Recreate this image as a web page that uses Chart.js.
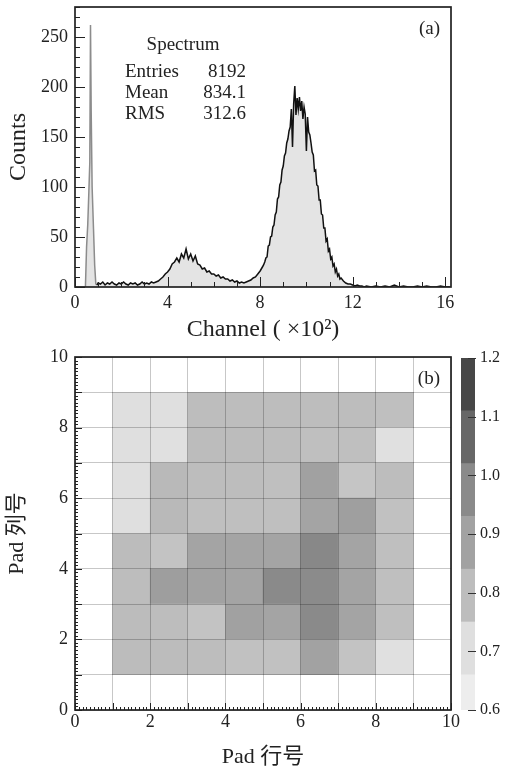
<!DOCTYPE html>
<html>
<head>
<meta charset="utf-8">
<script src="https://cdn.jsdelivr.net/npm/chart.js@4.4.0/dist/chart.umd.min.js"></script>
<style>
  body { margin: 0; background: #fff; width: 505px; height: 771px; overflow: hidden; position: relative; }
  canvas { position: absolute; left: 0; }
  #spec { top: 0; }
  #pads { top: 340px; }
  #scale { left: 440px; top: 340px; }
</style>
</head>
<body>
<canvas id="spec" width="505" height="344"></canvas>
<canvas id="pads" width="505" height="431"></canvas>
<canvas id="scale" width="65" height="431"></canvas>
<script>
// (a) spectrum, channel in units of 100
const channel = [
  0, 0.2, 0.4, 0.45, 0.5, 0.55, 0.6, 0.64, 0.67, 0.7, 0.74, 0.8, 0.85, 0.9, 0.95,
  1.0, 1.1, 1.2, 1.3, 1.4, 1.5, 1.6, 1.7, 1.8, 1.9, 2.0, 2.1, 2.2, 2.3, 2.4, 2.5, 2.6, 2.7, 2.8, 2.9, 3.0, 3.1, 3.2, 3.3, 3.4, 3.5,
  3.6, 3.7, 3.8, 3.9, 4.0, 4.1, 4.2, 4.3, 4.4, 4.5, 4.6, 4.7, 4.8, 4.9, 5.0, 5.1, 5.2, 5.3, 5.4, 5.5, 5.6, 5.7, 5.8, 5.9,
  6.0, 6.1, 6.2, 6.3, 6.4, 6.5, 6.6, 6.7, 6.8, 6.9, 7.0, 7.1, 7.2, 7.3, 7.4, 7.5, 7.6,
  7.7, 7.8, 7.9, 8.0, 8.05, 8.1, 8.15, 8.2, 8.25, 8.3, 8.35, 8.4, 8.45, 8.5, 8.55, 8.6, 8.65, 8.7, 8.75, 8.8, 8.85, 8.9, 8.95,
  9.0, 9.05, 9.1, 9.15, 9.2, 9.25, 9.3, 9.35, 9.4, 9.45, 9.5, 9.55, 9.6, 9.65, 9.7, 9.75, 9.8, 9.85, 9.9, 9.95,
  10.0, 10.05, 10.1, 10.15, 10.2, 10.25, 10.3, 10.35, 10.4, 10.45, 10.5, 10.55, 10.6, 10.65, 10.7, 10.75, 10.8, 10.85, 10.9, 10.95,
  11.0, 11.05, 11.1, 11.15, 11.2, 11.25, 11.3, 11.35, 11.4, 11.45, 11.5, 11.6, 11.7, 11.8, 11.9, 12.0, 12.1, 12.2, 12.3, 12.4, 12.5,
  12.6, 12.8, 13.0, 13.2, 13.4, 13.6, 13.8, 14.0, 14.2, 14.4, 14.6, 14.8, 15.0, 15.2, 15.4, 15.6, 15.8, 16.0, 16.2
];
const counts = [
  0, 0, 0, 0, 40, 62, 96, 125, 262, 175, 100, 58, 22, 3, 2,
  4, 3, 5, 2, 4, 3, 5, 3, 2, 4, 3, 5, 3, 2, 4, 3, 4, 2, 3, 5, 3, 4, 3, 5, 4, 5,
  6, 8, 10, 13, 15, 18, 23, 25, 29, 25, 33, 29, 38, 28, 33, 26, 31, 23, 22, 18, 19, 15, 16, 13,
  13, 11, 12, 9, 10, 8, 8, 6, 7, 5, 6, 4, 5, 4, 5, 6, 7,
  9, 10, 13, 16, 18, 20, 22, 25, 29, 30, 41, 42, 50, 51, 60, 62, 72, 75, 88, 90, 102, 105, 117,
  121, 131, 134, 144, 148, 156, 160, 178, 140, 183, 201, 172, 189, 178, 190, 176, 186, 168, 180, 173,
  136, 170, 155, 152, 144, 135, 132, 116, 117, 102, 101, 87, 87, 73, 72, 59, 59, 46, 48, 36,
  38, 28, 30, 21, 23, 15, 18, 11, 13, 8, 9, 6, 4, 3, 3, 2, 1, 2, 1, 1, 0,
  1, 0, 1, 0, 1, 0, 2, 0, 1, 0, 0, 1, 0, 1, 0, 0, 1, 0, 0
];
const channelTicks = [0, 4, 8, 12, 16];
const countTicks = [0, 50, 100, 150, 200, 250];
const statNames = ['Entries', 'Mean', 'RMS'];
const statValues = ['8192', '834.1', '312.6'];

// (b) relative response per pad, row1 = bottom (y 1-2), columns x 1..8
const padCols = [1, 2, 3, 4, 5, 6, 7, 8];
const row1 = [0.80, 0.80, 0.795, 0.785, 0.785, 0.885, 0.78, 0.70];
const row2 = [0.80, 0.795, 0.78, 0.89, 0.88, 0.975, 0.88, 0.79];
const row3 = [0.795, 0.90, 0.885, 0.88, 0.975, 0.97, 0.88, 0.79];
const row4 = [0.80, 0.78, 0.88, 0.88, 0.88, 0.98, 0.88, 0.79];
const row5 = [0.705, 0.81, 0.79, 0.79, 0.79, 0.88, 0.895, 0.785];
const row6 = [0.705, 0.81, 0.795, 0.795, 0.79, 0.89, 0.775, 0.795];
const row7 = [0.705, 0.70, 0.80, 0.80, 0.795, 0.79, 0.79, 0.70];
const row8 = [0.705, 0.705, 0.795, 0.795, 0.795, 0.795, 0.795, 0.79];
const levels = [0.6, 0.66, 0.75, 0.84, 0.93, 1.02, 1.11, 1.2];

const levelColors = ['#ededed', '#dfdfdf', '#bdbdbd', '#a2a2a2', '#8a8a8a', '#676767', '#474747'];
const grayStops = [[0.63, 237], [0.705, 223], [0.795, 189], [0.885, 162], [0.975, 138], [1.065, 103], [1.155, 71]];

function grayFor(v) {
  let g = grayStops[0][1];
  for (let i = 0; i < grayStops.length - 1; i++) {
    const [a, ga] = grayStops[i], [b, gb] = grayStops[i + 1];
    if (v >= a && v <= b) g = ga + (gb - ga) * (v - a) / (b - a);
    if (v > b) g = gb;
  }
  g = Math.round(g);
  return `rgb(${g},${g},${g})`;
}

const serif = "'Liberation Serif', 'Noto Sans CJK SC', serif";
Chart.defaults.font.family = serif;
Chart.defaults.color = '#222';

// inward ROOT-style ticks and the box around the frame
const frameTicks = {
  id: 'frameTicks',
  afterDraw(chart, args, o) {
    const { ctx, chartArea: a, scales } = chart;
    ctx.save();
    ctx.strokeStyle = '#222';
    ctx.lineWidth = 1;
    for (const k of ['x', 'y']) {
      const s = scales[k];
      const [step, big, len, bigLen] = o[k];
      const n = Math.round((s.max - s.min) / step);
      for (let i = 0; i <= n; i++) {
        const v = s.min + i * step;
        const L = Math.abs(v / big - Math.round(v / big)) < 1e-6 ? bigLen : len;
        const p = Math.round(s.getPixelForValue(v)) + 0.5;
        ctx.beginPath();
        if (k === 'x') { ctx.moveTo(p, a.bottom); ctx.lineTo(p, a.bottom - L); }
        else { ctx.moveTo(a.left, p); ctx.lineTo(a.left + L, p); }
        ctx.stroke();
      }
    }
    ctx.lineWidth = 1.7;
    ctx.strokeRect(a.left, a.top, a.right - a.left, a.bottom - a.top);
    ctx.font = '19px ' + serif;
    ctx.fillStyle = '#222';
    ctx.textAlign = 'right';
    ctx.fillText(o.tag, a.right - 11, a.top + 27);
    ctx.restore();
  }
};

const statsBox = {
  id: 'statsBox',
  afterDraw(chart) {
    const ctx = chart.ctx;
    ctx.save();
    ctx.fillStyle = '#222';
    ctx.font = '19px ' + serif;
    ctx.textAlign = 'center';
    ctx.fillText('Spectrum', 183, 50);
    statNames.forEach((t, i) => {
      ctx.textAlign = 'left';
      ctx.fillText(t, 125, 77 + i * 21);
      ctx.textAlign = 'right';
      ctx.fillText(statValues[i], 246, 77 + i * 21);
    });
    ctx.restore();
  }
};

const noPad = s => { s.paddingTop = 0; s.paddingBottom = 0; s.paddingLeft = 0; s.paddingRight = 0; };

new Chart(document.getElementById('spec'), {
  type: 'line',
  data: {
    datasets: [{
      data: channel.map((c, i) => ({ x: c, y: counts[i] })),
      borderColor: '#111',
      borderWidth: 1.5,
      backgroundColor: '#e4e4e4',
      fill: 'origin',
      pointRadius: 0,
      tension: 0,
      segment: {
        borderColor: ctx => channel[ctx.p1DataIndex] <= 0.95 ? '#8c8c8c' : undefined
      }
    }]
  },
  options: {
    responsive: false,
    animation: false,
    devicePixelRatio: 1,
    layout: { padding: { left: 0, right: 54, top: 7, bottom: 0 } },
    plugins: {
      legend: { display: false },
      tooltip: { enabled: false },
      frameTicks: { x: [1, 4, 5, 10], y: [10, 50, 5, 10], tag: '(a)' }
    },
    scales: {
      x: {
        type: 'linear', min: 0, max: 16.25,
        grid: { display: false, drawTicks: false },
        border: { display: false },
        ticks: { autoSkip: false, maxRotation: 0, padding: 5, font: { size: 18 } },
        afterBuildTicks: s => { s.ticks = channelTicks.map(v => ({ value: v })); },
        title: { display: true, text: 'Channel ( ×10²)', font: { size: 24 }, padding: { top: 0, bottom: 0 } },
        afterFit: s => { s.height = 57; noPad(s); }
      },
      y: {
        min: 0, max: 280,
        grid: { display: false, drawTicks: false },
        border: { display: false },
        ticks: { autoSkip: false, padding: 7, font: { size: 18 } },
        afterBuildTicks: s => { s.ticks = countTicks.map(v => ({ value: v })); },
        title: { display: true, text: 'Counts', font: { size: 24 }, padding: { top: 4, bottom: 0 } },
        afterFit: s => { s.width = 75; noPad(s); }
      }
    }
  },
  plugins: [frameTicks, statsBox]
});

const rows = [row1, row2, row3, row4, row5, row6, row7, row8];
const gridLine = { color: 'rgba(0,0,0,0.22)', lineWidth: 1, z: 1, drawTicks: false, offset: false };

new Chart(document.getElementById('pads'), {
  type: 'bar',
  data: {
    datasets: rows.map((r, j) => ({
      data: padCols.map(c => ({ x: c + 0.5, y: [j + 1, j + 2] })),
      backgroundColor: r.map(grayFor),
      borderWidth: 0,
      grouped: false,
      barPercentage: 1,
      categoryPercentage: 1
    }))
  },
  options: {
    responsive: false,
    animation: false,
    devicePixelRatio: 1,
    layout: { padding: { left: 0, right: 54, top: 17, bottom: 0 } },
    plugins: {
      legend: { display: false },
      tooltip: { enabled: false },
      frameTicks: { x: [0.1, 1, 3, 7], y: [0.1, 1, 3, 7], tag: '(b)' }
    },
    scales: {
      x: {
        type: 'linear', min: 0, max: 10, offset: false,
        grid: gridLine,
        border: { display: false },
        ticks: { stepSize: 1, autoSkip: false, maxRotation: 0, padding: 1, font: { size: 18 },
                 callback: v => v % 2 === 0 ? v : '' },
        title: { display: true, text: 'Pad 行号', font: { size: 22 }, padding: { top: 0, bottom: 1 } },
        afterFit: s => { s.height = 61; noPad(s); }
      },
      y: {
        min: 0, max: 10,
        grid: gridLine,
        border: { display: false },
        ticks: { stepSize: 1, autoSkip: false, padding: 7, font: { size: 18 },
                 callback: v => v % 2 === 0 ? v : '' },
        title: { display: true, text: 'Pad 列号', font: { size: 22 }, padding: { top: 4, bottom: 0 } },
        afterFit: s => { s.width = 75; noPad(s); }
      }
    }
  },
  plugins: [frameTicks]
});

const scaleTicks = {
  id: 'scaleTicks',
  afterDraw(chart) {
    const { ctx, chartArea: a, scales } = chart;
    ctx.save();
    ctx.strokeStyle = '#333';
    ctx.lineWidth = 1;
    scales.y.ticks.forEach(t => {
      const p = Math.round(scales.y.getPixelForValue(t.value)) + 0.5;
      ctx.beginPath();
      ctx.moveTo(a.right - 7, p);
      ctx.lineTo(a.right + 1, p);
      ctx.stroke();
    });
    ctx.restore();
  }
};

new Chart(document.getElementById('scale'), {
  type: 'bar',
  data: {
    labels: [''],
    datasets: levelColors.map((col, k) => ({
      data: [[levels[k], levels[k + 1]]],
      backgroundColor: col,
      borderWidth: 0,
      grouped: false,
      barPercentage: 1,
      categoryPercentage: 1
    }))
  },
  options: {
    responsive: false,
    animation: false,
    devicePixelRatio: 1,
    layout: { padding: { left: 21, right: 0, top: 18, bottom: 61 } },
    plugins: { legend: { display: false }, tooltip: { enabled: false } },
    scales: {
      x: { display: false },
      y: {
        position: 'right', min: 0.6, max: 1.2,
        grid: { display: false, drawTicks: false },
        border: { display: false },
        ticks: { stepSize: 0.1, padding: 5, font: { size: 16 }, callback: v => v.toFixed(1) },
        afterFit: s => { s.width = 30; noPad(s); }
      }
    }
  },
  plugins: [scaleTicks]
});
</script>
</body>
</html>
